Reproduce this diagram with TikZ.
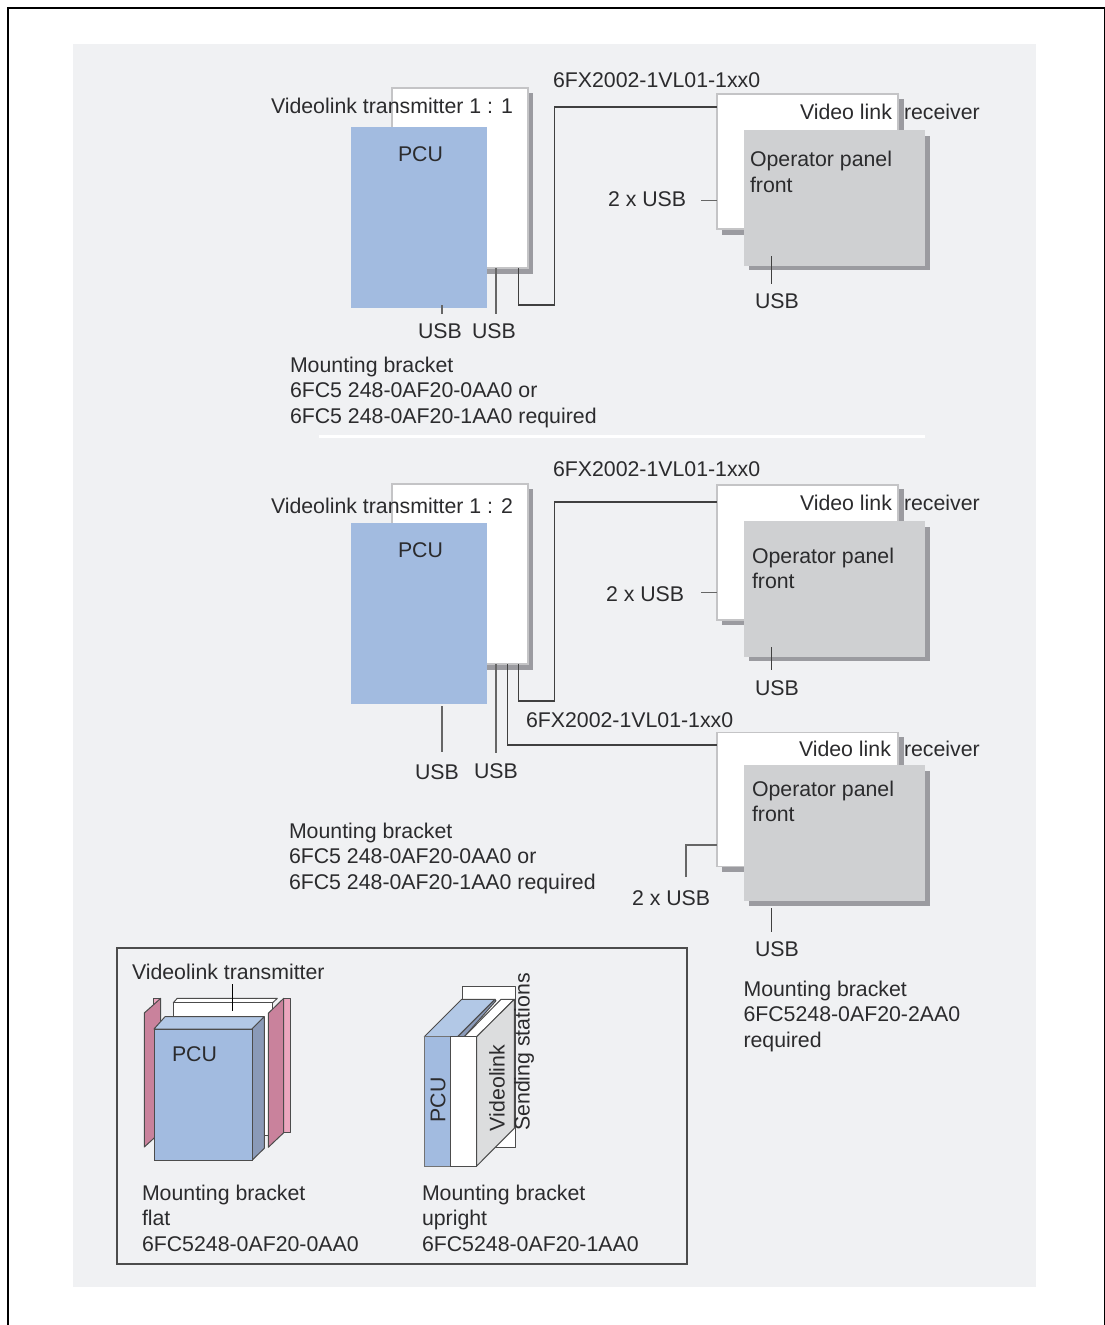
\documentclass[tikz,border=0pt]{standalone}
\usepackage{fontspec}
\setmainfont{Liberation Sans}
\definecolor{panelbg}{HTML}{F0F1F3}
\definecolor{shadowgrey}{HTML}{9B9BA0}
\definecolor{edgegrey}{HTML}{C4C4C6}
\definecolor{pcublue}{HTML}{A2BBE0}
\definecolor{pcutop}{HTML}{B2C8E6}
\definecolor{pcuside}{HTML}{8A9AB8}
\definecolor{frontgrey}{HTML}{CFD0D2}
\definecolor{sidegrey}{HTML}{DCDDDE}
\definecolor{plateside}{HTML}{C9829C}
\definecolor{plateback}{HTML}{EBA6BE}
\definecolor{inkgrey}{HTML}{2B2B2D}
\begin{document}
\begin{tikzpicture}[x=1pt, y=-1pt,
  lbl/.style={anchor=base west, inner sep=0pt, outer sep=0pt, text=inkgrey, font=\fontsize{21.3}{25.5}\selectfont},
  para/.style={lbl, anchor=north west, align=left},
  sidelbl/.style={lbl, anchor=center, rotate=90},
  whitebox/.style={anchor=north west, inner sep=0pt, outer sep=0pt, fill=white, draw=edgegrey, line width=1.2pt},
  pcubox/.style={anchor=north west, inner sep=0pt, outer sep=0pt, fill=pcublue, minimum width=136pt},
  frontbox/.style={anchor=north west, inner sep=0pt, outer sep=0pt, fill=frontgrey, minimum width=181pt, minimum height=136pt},
  wire/.style={draw=black!75, line width=1.1pt},
  tick/.style={draw=black!60, line width=1.4pt},
  solid3d/.style={draw=black!70, line width=1pt, line join=round}]
\useasboundingbox (0,0) rectangle (1105,1325);

% Page frame and panel
\draw[black, line width=1.5pt] (8,1325) -- (8,8) -- (1104.5,8) -- (1104.5,1325);
\fill[panelbg] (73,44) rectangle (1036,1287);
\fill[white] (319,434.5) rectangle (925,437.5);

% Transmitter 1 : 1
\fill[shadowgrey] (396,93) rectangle (533,273.5);
\node[whitebox, minimum width=136pt, minimum height=180pt] (txA) at (392,88) {};
\node[pcubox, minimum height=181pt] (pcuA) at (351,127) {};
\node[lbl] (txlblA) at (271,113) {Videolink transmitter 1 : 1};
\node[lbl] (pculblA) at (398,161) {PCU};

% Receiver upper
\fill[shadowgrey] (722,99) rectangle (904,235);
\node[whitebox, minimum width=181pt, minimum height=135pt] (rxA) at (717,94) {};
\fill[shadowgrey] (749,136) rectangle (930,269.5);
\node[frontbox] (frontA) at (744,130) {};
\node[lbl] (linklblA) at (800,119.5) {Video link};
\node[lbl] (rxlblA) at (904,119.5) {receiver};
\node[para] (oplblA) at (750,151.5) {Operator panel\\front};

% Labels upper
\node[lbl] (cablelblA) at (553,87) {6FX2002-1VL01-1xx0};
\node[lbl] (dblusbA) at (608,206.5) {2 x USB};
\node[lbl] (usbfrontA) at (755,308) {USB};
\node[lbl] (usbpcuA) at (418,338) {USB};
\node[lbl] (usbtxA) at (472,338) {USB};
\node[para] (mountA) at (290,357) {Mounting bracket\\6FC5 248-0AF20-0AA0 or\\6FC5 248-0AF20-1AA0 required};

% Connectors upper
\coordinate (tickpcuA) at (442,314);
\coordinate (ticktxA) at (496,314);
\coordinate (downA) at (518.5,305);
\coordinate (upA) at (554.5,107);
\coordinate (tickdblA) at (701,200.5);
\coordinate (tickfrontA) at (771.5,284);
\draw[tick] (tickpcuA) -- ++(0,-9);
\draw[tick] (txA.south -| ticktxA) -- (ticktxA);
\draw[wire] (txA.south -| downA) -- (downA) -- (upA |- downA) -- (upA) -- (rxA.west |- upA);
\draw[tick] (tickdblA) -- (rxA.west |- tickdblA);
\draw[wire] (frontA.south -| tickfrontA) ++(0,-10) -- (tickfrontA);

% Transmitter 1 : 2
\fill[shadowgrey] (396,489) rectangle (533,669.5);
\node[whitebox, minimum width=136pt, minimum height=180pt] (txB) at (392,484) {};
\node[pcubox, minimum height=181pt] (pcuB) at (351,523) {};
\node[lbl] (txlblB) at (271,513) {Videolink transmitter 1 : 2};
\node[lbl] (pculblB) at (398,557) {PCU};

% Receiver middle
\fill[shadowgrey] (722,489) rectangle (904,625);
\node[whitebox, minimum width=181pt, minimum height=135pt] (rxB) at (717,485) {};
\fill[shadowgrey] (749,527) rectangle (930,660.5);
\node[frontbox] (frontB) at (744,521) {};
\node[lbl] (linklblB) at (800,510.5) {Video link};
\node[lbl] (rxlblB) at (904,510.5) {receiver};
\node[para] (oplblB) at (752,548) {Operator panel\\front};

% Receiver lower
\fill[shadowgrey] (722,737) rectangle (903.5,871.5);
\node[whitebox, minimum width=181pt, minimum height=134pt] (rxC) at (717,732.5) {};
\fill[shadowgrey] (749,771) rectangle (930,906);
\node[frontbox, minimum height=136pt] (frontC) at (744,765) {};
\node[lbl] (linklblC) at (799,756) {Video link};
\node[lbl] (rxlblC) at (904,756) {receiver};
\node[para] (oplblC) at (752,781) {Operator panel\\front};

% Labels lower
\node[lbl] (cablelblB) at (553,476.5) {6FX2002-1VL01-1xx0};
\node[lbl] (cablelblC) at (526,727.5) {6FX2002-1VL01-1xx0};
\node[lbl] (dblusbB) at (606,601) {2 x USB};
\node[lbl] (usbfrontB) at (755,695) {USB};
\node[lbl] (usbpcuB) at (415,779) {USB};
\node[lbl] (usbtxB) at (474,778) {USB};
\node[para] (mountB) at (289,823) {Mounting bracket\\6FC5 248-0AF20-0AA0 or\\6FC5 248-0AF20-1AA0 required};
\node[lbl] (dblusbC) at (632,905) {2 x USB};
\node[lbl] (usbfrontC) at (755,956) {USB};
\node[para] (mountC) at (743.5,981) {Mounting bracket\\6FC5248-0AF20-2AA0\\required};

% Connectors lower
\coordinate (tickpcuB) at (442,752);
\coordinate (ticktxB) at (496,753);
\coordinate (downB) at (518.5,701);
\coordinate (upB) at (554.5,502);
\coordinate (downC) at (507.5,745);
\coordinate (tickdblB) at (701,592.5);
\coordinate (tickfrontB) at (771.5,670);
\coordinate (tickdblC) at (686,877);
\coordinate (tickmidC) at (686,845);
\coordinate (tickfrontC) at (771.5,932);
\draw[tick] (pcuB.south -| tickpcuB) ++(0,2) -- (tickpcuB);
\draw[tick] (txB.south -| ticktxB) -- (ticktxB);
\draw[wire] (txB.south -| downB) -- (downB) -- (upB |- downB) -- (upB) -- (rxB.west |- upB);
\draw[wire] (txB.south -| downC) -- (downC) -- (rxC.west |- downC);
\draw[tick] (tickdblB) -- (rxB.west |- tickdblB);
\draw[wire] (frontB.south -| tickfrontB) ++(0,-10) -- (tickfrontB);
\draw[tick] (tickdblC) -- (tickmidC) -- (rxC.west |- tickmidC);
\draw[wire] (frontC.south -| tickfrontC) ++(0,7) -- (tickfrontC);

% Legend box
\node[anchor=north west, inner sep=0pt, draw=black!70, line width=2pt, minimum width=570pt, minimum height=316pt] (legend) at (116,947) {};
\node[lbl] (legendtx) at (132,979) {Videolink transmitter};

% Flat bracket
\filldraw[solid3d, fill=plateback] (153,998.3) -- (160.7,998.3) -- (160.7,1132) -- (153,1132) -- cycle;
\filldraw[solid3d, fill=plateside] (144.3,1013) -- (160.7,998.3) -- (160.7,1132) -- (144.3,1147) -- cycle;
\filldraw[solid3d, fill=white] (173.3,1002.7) -- (177.3,998.3) -- (277.3,998.3) -- (272.7,1002.7) -- cycle;
\filldraw[solid3d, fill=white] (173.3,1002.7) rectangle (272.7,1135);
\filldraw[solid3d, fill=plateback] (283.7,998.3) -- (290.7,998.3) -- (290.7,1132.7) -- (283.7,1132.7) -- cycle;
\filldraw[solid3d, fill=plateside] (268.3,1013.3) -- (283.7,998.3) -- (283.7,1132.7) -- (268.3,1147.3) -- cycle;
\filldraw[solid3d, fill=pcutop] (154,1029) -- (165,1016.7) -- (264.3,1016.7) -- (252,1029) -- cycle;
\filldraw[solid3d, fill=pcuside] (252,1029) -- (264.3,1016.7) -- (264.3,1148.3) -- (252,1160.3) -- cycle;
\node[pcubox, draw=black!70, line width=1pt, minimum width=98pt, minimum height=131.3pt] (pcuflat) at (154,1029) {};
\node[lbl] (pculblflat) at (172,1061.5) {PCU};
\coordinate (ticktop) at (232.5,984);
\draw[wire, black] (ticktop) -- ++(0,27);
\node[para] (mountflat) at (142,1185) {Mounting bracket\\flat\\6FC5248-0AF20-0AA0};

% Upright bracket
\filldraw[solid3d, fill=white] (462.7,986) rectangle (515.7,1147.3);
\filldraw[solid3d, fill=pcutop] (424.3,1036.7) -- (461.7,999.3) -- (495,999.3) -- (457.7,1036.7) -- cycle;
\filldraw[solid3d, fill=pcuside] (457.7,1036.7) -- (495,999.3) -- (496,1000.7) -- (464.3,1036.7) -- cycle;
\filldraw[solid3d, fill=white] (464.3,1036.7) -- (501,999.3) -- (514.3,999.3) -- (476.7,1036.7) -- cycle;
\filldraw[solid3d, fill=sidegrey] (476.7,1036.7) -- (514.3,999.3) -- (514.3,1128.3) -- (476.7,1166) -- cycle;
\node[pcubox, draw=black!55, line width=1pt, minimum width=25.7pt, minimum height=129.3pt] (pcuup) at (424.3,1036.7) {};
\node[whitebox, draw=black!70, line width=1pt, minimum width=26.7pt, minimum height=129.3pt] (txup) at (450,1036.7) {};
\node[sidelbl] (pculblup) at (438,1100) {PCU};
\node[sidelbl] (linklblup) at (497,1088) {Videolink};
\node[sidelbl] (sendlblup) at (524,1052) {Sending stations};
\node[para] (mountup) at (422,1185) {Mounting bracket\\upright\\6FC5248-0AF20-1AA0};
\end{tikzpicture}
\end{document}
